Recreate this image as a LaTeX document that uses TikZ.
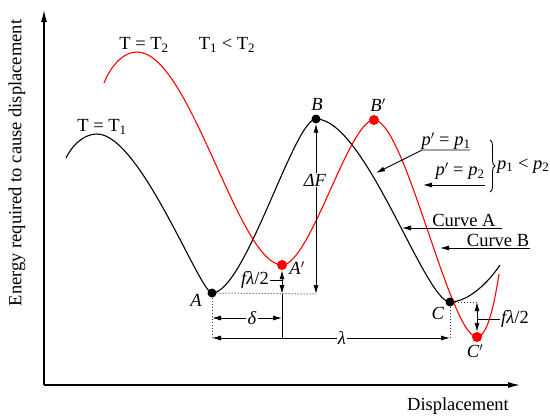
\documentclass[tikz,border=0pt]{standalone}
\usepackage{fontspec}
\setmainfont{Liberation Serif}
\usetikzlibrary{arrows.meta,decorations.pathreplacing}
\begin{document}
\begin{tikzpicture}[x=1pt,y=-1pt,
  font=\fontsize{18.5}{20}\selectfont,
  curveblk/.style={line width=1.1pt, black},
  curvered/.style={line width=1.1pt, red},
  dotblk/.style={circle, fill=black, inner sep=0pt, minimum size=9pt},
  dotred/.style={circle, fill=red, inner sep=0pt, minimum size=10pt},
  dim/.style={line width=0.9pt},
  arr/.style={-{Latex[length=9pt,width=5pt]}},
  dbl/.style={{Latex[length=9pt,width=5pt]}-{Latex[length=9pt,width=5pt]}},
  axisline/.style={line width=1.3pt, -{Latex[length=12pt,width=6pt]}},
  dimdots/.style={dotted, line width=1pt, black!75},
  lbl/.style={inner sep=1pt}]
\useasboundingbox (0,0) rectangle (550,418);

% axes
\coordinate (O) at (44,385);
\coordinate (Ytop) at (44,10);
\coordinate (Xend) at (520,385);
\draw[axisline] (O) -- (Ytop);
\draw[axisline] (O) -- (Xend);
\node (xl) at (458,406) {Displacement};
\node[rotate=90] (yl) at (17,163) {Energy required to cause displacement};

% points
\coordinate (Bs) at (66,158);
\coordinate (Bpk) at (97,134);
\coordinate (Be) at (500,265);
\coordinate (Rs) at (104,83);
\coordinate (Rpk) at (137,52);
\coordinate (Re) at (499,274);

% curves
\draw[curveblk] (Bs) .. controls (74,142) and (86,134) .. (Bpk)
  .. controls (140,134) and (200,293) .. (212,293)
  .. controls (245,293) and (294,119) .. (316,119)
  .. controls (365,119) and (425,302) .. (450,302)
  .. controls (468,302) and (488,283) .. (Be);
\draw[curvered] (Rs) .. controls (112,63) and (125,52) .. (Rpk)
  .. controls (190,52) and (238,264) .. (282,265)
  .. controls (310,265) and (349,120) .. (374,120)
  .. controls (405,120) and (450,337) .. (477,337)
  .. controls (488,337) and (495,300) .. (Re);

\node[dotblk] (A) at (212,293) {};
\node[dotblk] (B) at (316,119) {};
\node[dotblk] (C) at (450,302) {};
\node[dotred] (Ap) at (282,265) {};
\node[dotred] (Bp) at (374,120) {};
\node[dotred] (Cp) at (477,337) {};

\node[lbl] (Alab) at (196,300) {\textit{A}};
\node[lbl] (Blab) at (317,104) {\textit{B}};
\node[lbl] (Clab) at (438,313) {\textit{C}};
\node[lbl] (Aplab) at (297,268) {\textit{A}$'$};
\node[lbl] (Bplab) at (378,105) {\textit{B}$'$};
\node[lbl] (Cplab) at (475,351) {\textit{C}$'$};

\node (T2) at (144,45) {T = T\textsubscript{2}};
\node (T12) at (227,45) {T\textsubscript{1} < T\textsubscript{2}};
\node (T1) at (102,127) {T = T\textsubscript{1}};

% dimension helpers
\coordinate (Fb) at (316,294);
\coordinate (Af) at (282,294);
\coordinate (Al) at (282,338);
\coordinate (Am) at (282,280);
\coordinate (Ad) at (212,338);
\coordinate (Cd) at (450,338);
\coordinate (Ch) at (477,302);
\coordinate (Cm) at (477,319);
\coordinate (dL) at (212,318);
\coordinate (dR) at (282,318);

% Delta F
\draw[dimdots] (A.east) -- (Fb);
\draw[dim,dbl] (Fb) -- (B.south);
\node[fill=white, inner sep=1pt] (dF) at (315,180) {\textit{ΔF}};

% f lambda/2 at A'
\draw[dim,dbl] (Ap.south) -- (Af);
\draw[dim] (Af) -- (Al);
\node[lbl] (fl1) at (255,280) {\textit{fλ}/2};
\draw[dim] (fl1.east) -- (Am);

% delta and lambda
\draw[dimdots] (A.south) -- (Ad);
\draw[dimdots] (C.south) -- (Cd);
\node[lbl] (delta) at (252,318) {\textit{δ}};
\draw[dim,arr] (delta) -- (dL);
\draw[dim,arr] (delta) -- (dR);
\node[lbl] (lam) at (342,338) {\textit{λ}};
\draw[dim,arr] (lam) -- (Ad);
\draw[dim,arr] (lam) -- (Cd);

% f lambda/2 at C
\draw[dimdots] (C.east) -- (Ch);
\draw[dim,dbl] (Ch) -- (Cp.north);
\node[lbl] (fl2) at (515,319) {\textit{fλ}/2};
\draw[dim] (fl2.west) -- (Cm);

% pressure labels
\node[lbl] (p1) at (446,141) {\textit{p}$'$ = \textit{p}\textsubscript{1}};
\coordinate (p1a) at (422,150);
\coordinate (p1b) at (470,150);
\coordinate (p1t) at (376,173);
\draw[dim,arr] (p1b) -- (p1a) -- (p1t);
\node[lbl] (p2) at (460,171) {\textit{p}$'$ = \textit{p}\textsubscript{2}};
\coordinate (p2a) at (485,185);
\coordinate (p2t) at (423,185);
\draw[dim,arr] (p2a) -- (p2t);
\draw[dim, decorate, decoration={brace, amplitude=5pt}] (490,140) -- (490,192);
\node[lbl, anchor=west] (pp) at (496,166) {\textit{p}\textsubscript{1} < \textit{p}\textsubscript{2}};

% curve labels
\node[lbl] (cA) at (464,220) {Curve A};
\coordinate (cAa) at (502,228);
\coordinate (cAt) at (402,228);
\draw[dim,arr] (cAa) -- (cAt);
\node[lbl] (cB) at (498,240) {Curve B};
\coordinate (cBa) at (530,248);
\coordinate (cBt) at (440,248);
\draw[dim,arr] (cBa) -- (cBt);
\end{tikzpicture}
\end{document}
